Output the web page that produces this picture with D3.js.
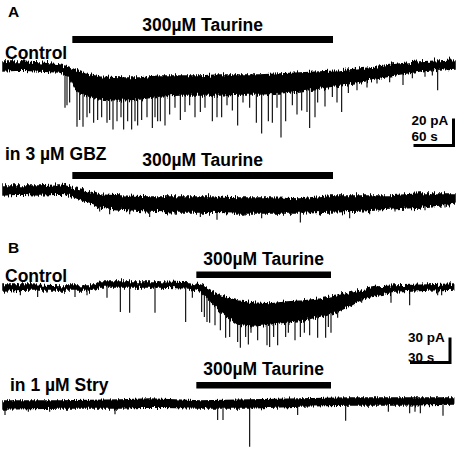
<!DOCTYPE html>
<html>
<head>
<meta charset="utf-8">
<script src="https://cdn.jsdelivr.net/npm/d3@7"></script>
<style>
  body { margin: 0; background: #fff; }
  text { font-family: "Liberation Sans", Arial, sans-serif; font-weight: bold; fill: #000; }
</style>
</head>
<body>
<svg id="fig" width="458" height="450"></svg>
<script>
// ---- data: envelopes are [time s, upper pA, lower pA], spikes are [time s, peak pA]
var ctlA_env = [[0,3.0,-3.7],[25,3.0,-3.0],[55,2.2,-3.7],[85,0.7,-4.4],[98,-0.7,-7.4],[108,-3.0,-16.3],
  [123,-5.9,-21.5],[145,-8.1,-24.4],[175,-8.9,-25.2],[205,-8.9,-24.4],[235,-7.4,-22.2],[265,-7.4,-21.5],
  [295,-7.4,-21.5],[325,-6.7,-21.5],[355,-6.7,-20.7],[385,-6.7,-20.7],[415,-6.0,-20.0],[445,-5.2,-18.5],
  [475,-4.4,-16.3],[505,-3.7,-14.1],[535,-2.2,-11.9],[565,-0.7,-8.9],[595,1.5,-5.9],[625,3.0,-3.7],
  [655,3.7,-2.2],[678,4.4,-1.5]];
var ctlA_spikes = [[93,-31],[96,-29],[100,-27],[111,-45],[115,-40],[120,-45],[126,-38],[130,-35],[136,-42],
  [142,-40],[148,-38],[156,-42],[160,-40],[165,-47],[171,-41],[177,-38],[181,-47],[187,-41],[193,-47],
  [198,-41],[202,-44],[208,-40],[216,-38],[224,-46],[228,-38],[232,-41],[236,-41],[243,-44],[250,-36],
  [258,-31],[266,-40],[273,-34],[280,-29],[288,-38],[296,-34],[303,-31],[314,-41],[321,-38],[328,-38],
  [336,-29],[344,-33],[352,-44],[360,-27],[370,-31],[380,-42],[388,-50],[398,-41],[404,-42],[411,-31],
  [417,-53],[424,-41],[434,-29],[441,-36],[448,-33],[456,-34],[460,-46],[468,-38],[472,-27],[483,-30],
  [494,-23],[501,-27],[508,-34],[518,-20],[531,-18],[546,-16],[561,-13],[580,-12],[600,-14],[614,-9],
  [633,-8],[644,-7],[652,-18],[666,-3]];

var gbzA_env = [[0,3.0,-3.7],[25,3.0,-3.0],[55,3.0,-3.7],[85,3.7,-3.0],[100,2.2,-3.7],[115,0.7,-6.7],
  [145,-3.7,-12.6],[175,-4.4,-14.1],[220,-5.2,-15.6],[265,-5.2,-16.3],[310,-5.2,-16.3],[355,-5.9,-17.0],
  [400,-5.9,-17.0],[445,-6.7,-17.0],[490,-4.4,-16.3],[535,-4.4,-15.6],[580,-4.4,-14.1],[625,-3.0,-12.6],
  [655,-3.0,-11.1],[678,-3.0,-9.6]];
var gbzA_spikes = [[145,-16],[160,-18],[190,-18],[220,-20],[258,-18],[296,-20],[321,-22],[363,-19],
  [388,-21],[446,-24],[476,-19],[520,-21],[550,-18],[588,-16],[633,-15],[663,-13]];

var ctlB_env = [[0,2.4,-4.8],[20,2.4,-3.6],[43,1.2,-3.6],[69,1.2,-3.6],[73,6,0],[95,6,0],[118,6,0],
  [140,4.8,-1.2],[148,2.4,-4.8],[155,-3.6,-15.6],[163,-10.8,-28.8],[176,-16.8,-44.4],[188,-19.2,-46.8],
  [200,-20.4,-44.4],[213,-18,-42],[225,-16.8,-39.6],[238,-14.4,-34.8],[251,-10.8,-28.8],[260,-7.2,-22.8],
  [269,-3.6,-14.4],[281,0,-9.6],[294,1.2,-6],[319,2.4,-3.6],[338,3.6,-2.4]];
var ctlB_spikes = [[13,-10],[26,-12],[33,-7],[54,-12],[63,-10],[78,-13],[88,-30],[95,-31],[114,-31],
  [137,-42],[142,-13],[149,-30],[151,-36],[153,-42],[155,-43],[159,-46],[163,-52],[167,-61],[170,-60],
  [176,-66],[178,-73],[182,-60],[184,-69],[186,-55],[191,-64],[198,-70],[200,-72],[203,-60],[206,-70],
  [212,-60],[214,-55],[219,-64],[223,-60],[226,-55],[230,-58],[236,-61],[242,-61],[244,-48],[246,-55],
  [251,-37],[269,-19],[291,-19],[305,-22],[326,-10],[329,-10]];

var stry_env = [[0,4.8,-4.8],[43,4.8,-3.6],[88,6,-3.6],[110,7.2,-2.4],[148,4.8,-3.6],[185,6,-3.6],
  [223,7.2,-1.2],[260,8.4,0],[298,8.4,0],[338,8.4,1.2]];
var stry_spikes = [[1.5,-12],[19,-8],[35,-8],[84,-11],[161,-18],[165,-18],[185,-50],[221,-12],[257,-19],
  [289,-8],[305,-10],[309,-8],[313,-10],[330,-13]];

var taurineA = [104, 495];   // s
var taurineB = [145, 246];   // s
var drugLabel = "300\u00b5M Taurine";
var scaleA = {pA: 20, s: 60};
var scaleB = {pA: 30, s: 30};

// ---- layout
var svg = d3.select("#fig");
var defs = svg.append("defs");

function roughFilter(id, amount) {
  var f = defs.append("filter").attr("id", id)
    .attr("filterUnits", "userSpaceOnUse")
    .attr("x", 0).attr("y", 0).attr("width", 458).attr("height", 450);
  f.append("feTurbulence").attr("type", "fractalNoise")
    .attr("baseFrequency", "0.85 0.04").attr("numOctaves", 2).attr("seed", 7).attr("result", "n");
  f.append("feColorMatrix").attr("in", "n").attr("type", "matrix")
    .attr("values", "1 0 0 0 0  0 0 0 0 0.5  0 0 0 0 0  0 0 0 0 1").attr("result", "m");
  f.append("feDisplacementMap").attr("in", "SourceGraphic").attr("in2", "m")
    .attr("scale", amount).attr("xChannelSelector", "G").attr("yChannelSelector", "R");
}
roughFilter("roughBig", 9);
roughFilter("roughSmall", 6);

var xA = d3.scaleLinear().domain([0, 678]).range([3, 455]);
var xB = d3.scaleLinear().domain([0, 337.5]).range([3, 453]);

function yA(y0) { return d3.scaleLinear().domain([0, -scaleA.pA]).range([y0, y0 + 27]); }
function yB(y0) { return d3.scaleLinear().domain([0, -scaleB.pA]).range([y0, y0 + 25]); }

function drawTrace(env, spikes, x, y, filt) {
  var g = svg.append("g");
  var area = d3.area()
    .x(function(d) { return x(d[0]); })
    .y0(function(d) { return y(d[2]); })
    .y1(function(d) { return y(d[1]); });
  g.append("path").datum(env)
    .attr("d", area)
    .attr("fill", "#000")
    .attr("stroke", "#000")
    .attr("stroke-width", 1.5)
    .attr("filter", "url(#" + filt + ")");

  var mid = d3.scaleLinear()
    .domain(env.map(function(d) { return d[0]; }))
    .range(env.map(function(d) { return (d[1] + d[2]) / 2; }));

  g.selectAll(".spike").data(spikes).enter().append("line")
    .attr("class", "spike")
    .attr("x1", function(d) { return x(d[0]); })
    .attr("x2", function(d) { return x(d[0]); })
    .attr("y1", function(d) { return y(mid(d[0])); })
    .attr("y2", function(d) { return y(d[1]); })
    .attr("stroke", "#000")
    .attr("stroke-width", 1.1);
}

function drugBar(x, t, yTop, h, textY) {
  svg.append("rect")
    .attr("x", x(t[0])).attr("y", yTop)
    .attr("width", x(t[1]) - x(t[0])).attr("height", h)
    .attr("fill", "#000");
  svg.append("text")
    .attr("x", (x(t[0]) + x(t[1])) / 2).attr("y", textY)
    .attr("text-anchor", "middle").attr("font-size", "17.5px")
    .text(drugLabel);
}

function label(txt, x, y, size) {
  svg.append("text").attr("x", x).attr("y", y).attr("font-size", size).text(txt);
}

function scaleBar(x, sc, cornerX, cornerY, topY, txtY1, txtY2) {
  var w = x(sc.s) - x(0);
  svg.append("path")
    .attr("d", "M" + (cornerX - w) + "," + cornerY + "H" + cornerX + "V" + topY)
    .attr("fill", "none").attr("stroke", "#000").attr("stroke-width", 3);
  label(sc.pA + " pA", cornerX - w - 2, txtY1, "13.5px");
  label(sc.s + " s", cornerX - w - 2, txtY2, "13.5px");
}

// ---- panel A
label("A", 8, 17, "15.5px");
drugBar(xA, taurineA, 36, 7, 31);
label("Control", 5, 59, "17.5px");
drawTrace(ctlA_env, ctlA_spikes, xA, yA(66), "roughBig");
var yAref = yA(0);
scaleBar(xA, scaleA, 453.5, 145.5, 145.5 - (yAref(-scaleA.pA) - yAref(0)), 125, 141);

label("in 3 \u00b5M GBZ", 5, 160, "17.5px");
drugBar(xA, taurineA, 172, 7, 166);
drawTrace(gbzA_env, gbzA_spikes, xA, yA(190), "roughBig");

// ---- panel B
label("B", 8, 253, "15.5px");
drugBar(xB, taurineB, 271.5, 6.5, 265);
label("Control", 5, 282, "17.5px");
drawTrace(ctlB_env, ctlB_spikes, xB, yB(287), "roughBig");
var yBref = yB(0);
scaleBar(xB, scaleB, 450, 362.5, 362.5 - (yBref(-scaleB.pA) - yBref(0)), 342, 362);

label("in 1 \u00b5M Stry", 10, 391, "17.5px");
drugBar(xB, taurineB, 382, 6.5, 375);
drawTrace(stry_env, stry_spikes, xB, yB(405), "roughSmall");
</script>
</body>
</html>
